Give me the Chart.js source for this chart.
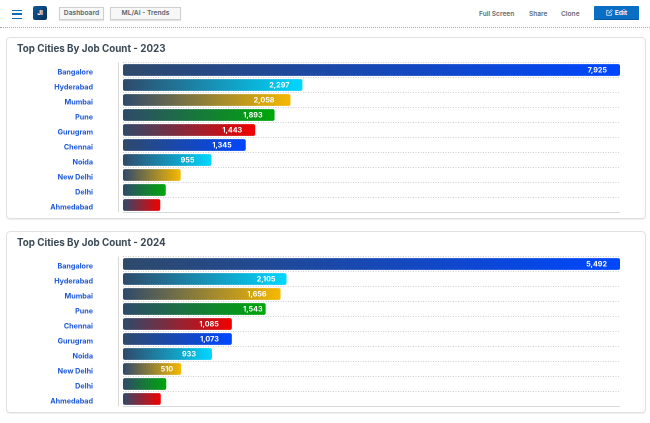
<!DOCTYPE html>
<html><head><meta charset="utf-8">
<style>
html,body{margin:0;padding:0;background:#fff;width:650px;height:423px;overflow:hidden;font-family:Inter,"Open Sans",sans-serif;}
.abs{position:absolute;}
.burger{left:12px;top:10px;width:10px;height:8.5px;border-top:1.5px solid #0f6cbd;border-bottom:1.5px solid #0f6cbd;box-sizing:border-box;}
.burger:after{content:"";position:absolute;left:0;right:0;top:2px;height:1.5px;background:#0f6cbd;}
.logo{left:33px;top:6px;width:14px;height:14px;border-radius:2px;background:linear-gradient(135deg,#0b5a9a,#0a2f57);color:#fff;font-size:6.5px;font-weight:700;text-align:center;line-height:14px;}
.btn{top:7px;height:13px;box-sizing:border-box;border:1px solid #cfcfcf;background:#f7f7f7;color:#5a646e;font-size:6.7px;font-weight:600;text-align:center;line-height:11.5px;box-shadow:0 1px 1px #e4e4e4;}
.link{top:9px;font-size:6.6px;font-weight:600;color:#626c74;line-height:10px;white-space:nowrap;}
.edit{left:594px;top:6px;width:45px;height:14px;background:#0a6fc4;border-bottom:1px solid #07589c;box-sizing:border-box;border-radius:1px;color:#fff;font-size:6.8px;font-weight:600;line-height:13px;text-align:center;}
.edit svg{vertical-align:-1px;margin-right:2px;}
.rule{left:0;top:27px;width:650px;border-top:1px dotted #a9a9a9;}
.card{left:6px;width:638px;height:180px;border:1px solid #e1e1e1;border-radius:4px;background:#fff;box-shadow:0 1px 1px #eee;}
.title{left:17px;font-size:9.8px;font-weight:700;color:#3a4955;line-height:14px;white-space:nowrap;z-index:2;}
canvas{position:absolute;left:6px;width:640px;height:182px;}
</style>
<script src="https://cdn.jsdelivr.net/npm/chart.js@4"></script>
</head><body>
<div class="abs burger"></div>
<div class="abs logo">JI</div>
<div class="abs btn" style="left:59px;width:45px;">Dashboard</div>
<div class="abs btn" style="left:110px;width:71px;">ML/AI - Trends</div>
<div class="abs link" style="left:479px;">Full Screen</div>
<div class="abs link" style="left:529px;">Share</div>
<div class="abs link" style="left:561px;">Clone</div>
<div class="abs edit"><svg width="7" height="7" viewBox="0 0 10 10" fill="none" stroke="#fff" stroke-width="1"><path d="M8 6v3H1V2h3"/><path d="M4 6l.4-1.6L8 1l1 1-3.4 3.6z"/></svg>Edit</div>
<div class="abs rule"></div>

<div class="abs card" style="top:37px;"></div>
<div class="abs title" style="top:41.5px;">Top Cities By Job Count - 2023</div>
<canvas id="c2023" style="top:37px;"></canvas>

<div class="abs card" style="top:231px;"></div>
<div class="abs title" style="top:235.5px;">Top Cities By Job Count - 2024</div>
<canvas id="c2024" style="top:231px;"></canvas>

<script>
// City order differs between the two years.
const cities2023 = ["Bangalore","Hyderabad","Mumbai","Pune","Gurugram","Chennai","Noida","New Delhi","Delhi","Ahmedabad"];
const cities2024 = ["Bangalore","Hyderabad","Mumbai","Pune","Chennai","Gurugram","Noida","New Delhi","Delhi","Ahmedabad"];
// Printed job counts (null: the picture prints no number on that bar).
const printed2023 = [7925,2297,2058,1893,1443,1345,955,null,null,null];
const printed2024 = [5492,2105,1656,1543,1085,1073,933,510,null,null];
// Bar lengths, in percent of the longest bar.
// The reference's bars are not proportional to the printed counts, so the two are kept apart.
const barLength2023 = [100,36.1,33.7,30.5,26.6,24.7,17.8,11.6,8.6,7.5];
const barLength2024 = [100,32.9,31.7,28.7,21.9,21.9,17.9,11.7,8.7,7.6];
const endColors = ["#0047ff","#00d8ff","#f7b900","#00a80a","#f20000"];
const startColor = "#2f4a6b";
const FONT = 'Inter, "Open Sans", sans-serif';

const decorate = {
  id:"decorate",
  beforeDatasetsDraw(chart){
    const {ctx,chartArea:a} = chart;
    ctx.save();
    ctx.strokeStyle="#d9d9d9"; ctx.lineWidth=1;
    ctx.beginPath(); ctx.moveTo(a.left-4.5,a.top); ctx.lineTo(a.left-4.5,a.bottom); ctx.stroke();
    ctx.beginPath(); ctx.moveTo(a.left,a.bottom); ctx.lineTo(a.right,a.bottom); ctx.stroke();
    ctx.restore();
  },
  afterDatasetsDraw(chart,args,opts){
    const {ctx} = chart;
    const meta = chart.getDatasetMeta(0);
    ctx.save();
    ctx.fillStyle="#fff"; ctx.textAlign="right"; ctx.textBaseline="middle";
    ctx.font='700 7.2px '+FONT;
    opts.printed.forEach((v,i)=>{
      if(v===null) return;
      const el = meta.data[i];
      ctx.fillText(v.toLocaleString("en-US"), el.x-opts.gaps[i], el.y+0.5);
    });
    ctx.restore();
  }
};

function makeChart(id,cities,lengths,printed,gaps){
  new Chart(document.getElementById(id),{
    type:"bar",
    plugins:[decorate],
    data:{labels:cities,datasets:[{
      data:lengths,
      barPercentage:0.78,categoryPercentage:1,
      borderRadius:2,borderSkipped:false,
      backgroundColor(c){
        const ch=c.chart;
        if(!ch.chartArea||!c.parsed) return startColor;
        const x=ch.scales.x;
        const g=ch.ctx.createLinearGradient(x.getPixelForValue(0),0,x.getPixelForValue(c.parsed.x),0);
        g.addColorStop(0,startColor);
        g.addColorStop(1,endColors[c.dataIndex%endColors.length]);
        return g;
      }
    }]},
    options:{
      indexAxis:"y",responsive:false,maintainAspectRatio:false,animation:false,devicePixelRatio:2,
      layout:{padding:{left:0,right:26,top:25.5,bottom:6.5}},
      plugins:{legend:{display:false},tooltip:{enabled:false},title:{display:false},decorate:{printed,gaps}},
      scales:{
        x:{type:"linear",min:0,max:100,display:false},
        y:{
          afterFit(s){s.width=117;s.paddingTop=0;s.paddingBottom=0;},
          grid:{display:true,drawTicks:false,color:"#cfcfcf",lineWidth:1,offset:true},
          border:{display:false,dash:[1,1.5]},
          ticks:{color:"#1c57d8",padding:30,labelOffset:2.5,autoSkip:false,font:{family:FONT,size:7.2,weight:"700"}}
        }
      }
    }
  });
}
function size(id){const c=document.getElementById(id);c.width=640;c.height=182;}
size("c2023");size("c2024");
makeChart("c2023",cities2023,barLength2023,printed2023,[13,13,16,12,13,14,17]);
makeChart("c2024",cities2024,barLength2024,printed2024,[13,11,14,3,13,13,16,8]);
</script>
</body></html>
